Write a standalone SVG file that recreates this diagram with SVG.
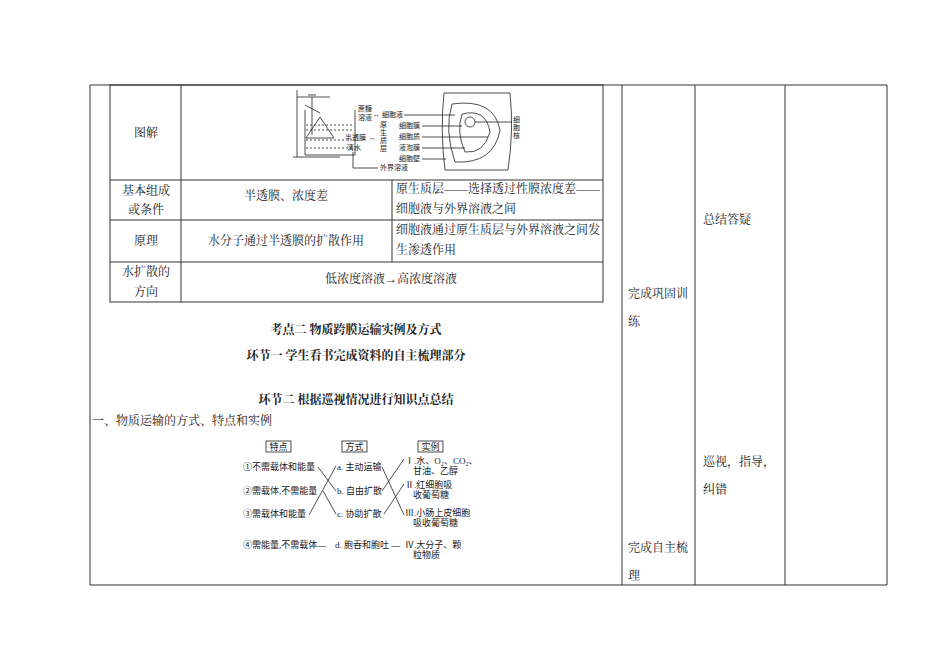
<svg xmlns="http://www.w3.org/2000/svg" width="950" height="672" viewBox="0 0 950 672">
<style>
.t{font-family:"Liberation Serif","Noto Serif CJK SC","Noto Sans CJK SC",serif;font-size:12px;fill:#222}
.b{font-weight:bold}
.s{font-family:"Liberation Serif","Noto Sans CJK SC",serif;font-size:7px;fill:#222}
.m{font-family:"Liberation Serif","Noto Sans CJK SC",serif;font-size:9px;fill:#222}
.ln{stroke:#333;stroke-width:1;fill:none}
.g{stroke:#222;stroke-width:0.8;fill:none}
</style>
<rect width="950" height="672" fill="#fff"/>
<g id="outer-table" class="ln">
<path d="M90 85V585H887V85H90M622 85V585M695 85V585M785 85V585"/>
</g>
<g id="inner-table" class="ln">
<rect x="110" y="85" width="493" height="217"/>
<path d="M110 180H603M110 220H603M110 262H603M181 85V302M392 180V262"/>
</g>
<g id="cells">
<text class="t" x="146" y="137" text-anchor="middle">图解</text>
<text class="t" x="146" y="195" text-anchor="middle">基本组成</text>
<text class="t" x="146" y="214" text-anchor="middle">或条件</text>
<text class="t" x="286" y="200" text-anchor="middle">半透膜、浓度差</text>
<text class="t" x="396" y="193">原生质层——选择透过性膜浓度差——</text>
<text class="t" x="396" y="213">细胞液与外界溶液之间</text>
<text class="t" x="146" y="245" text-anchor="middle">原理</text>
<text class="t" x="286" y="245" text-anchor="middle">水分子通过半透膜的扩散作用</text>
<text class="t" x="396" y="234">细胞液通过原生质层与外界溶液之间发</text>
<text class="t" x="396" y="254">生渗透作用</text>
<text class="t" x="146" y="276" text-anchor="middle">水扩散的</text>
<text class="t" x="146" y="296" text-anchor="middle">方向</text>
<text class="t" x="391" y="283" text-anchor="middle">低浓度溶液→高浓度溶液</text>
<text class="t" x="628" y="298">完成巩固训</text>
<text class="t" x="628" y="326">练</text>
<text class="t" x="628" y="552">完成自主梳</text>
<text class="t" x="628" y="580">理</text>
<text class="t" x="703" y="224">总结答疑</text>
<text class="t" x="703" y="466">巡视，指导，</text>
<text class="t" x="703" y="494">纠错</text>
</g>
<g id="figure1">
<path class="g" d="M297 90V157M293 157H340M297 97H330M312 97V135M308 95H316M305 105L320 113"/>
<path class="g" d="M305 110V155H355V110"/>
<path class="g" d="M306 125H354M306 130H354M306 140H354M306 148H354" stroke-dasharray="2 2"/>
<path class="g" d="M320 117L306 138H334Z" fill="#eee"/>
<path class="g" d="M444 93Q440 130 445 170M510 93Q514 130 508 170M444 93H510M445 170H508"/>
<path class="g" d="M452 104Q494 98 500 130Q494 164 455 162Q444 130 452 104Z"/>
<path class="g" d="M462 114Q486 108 490 132Q484 154 465 152Q456 132 462 114Z"/>
<circle class="g" cx="470" cy="122" r="5"/>
<text class="s" x="358" y="111">蔗糖</text><text class="s" x="358" y="120">溶液</text>
<text class="s" x="373" y="117">↔</text><text class="s" x="382" y="117">细胞液</text>
<text class="s" x="345" y="140">半透膜</text><text class="s" x="347" y="150">清水</text>
<text class="s" x="369" y="140">↔</text>
<text class="s" x="380" y="127">原</text><text class="s" x="380" y="135">生</text><text class="s" x="380" y="143">质</text><text class="s" x="380" y="151">层</text>
<text class="s" x="399" y="128">细胞膜</text><text class="s" x="399" y="139">细胞质</text><text class="s" x="399" y="150">液泡膜</text>
<text class="s" x="399" y="161">细胞壁</text>
<text class="s" x="380" y="170">外界溶液</text>
<text class="s" x="513" y="122">细</text><text class="s" x="513" y="130">胞</text><text class="s" x="513" y="138">核</text>
<path class="g" d="M404 115H455M422 126H462M422 137H488M422 148H465M422 159H446M353 152V168H378M475 122H512"/>
</g>
<g id="headings">
<text class="t b" x="356" y="334" text-anchor="middle">考点二  物质跨膜运输实例及方式</text>
<text class="t b" x="356" y="360" text-anchor="middle">环节一    学生看书完成资料的自主梳理部分</text>
<text class="t b" x="356" y="404" text-anchor="middle">环节二  根据巡视情况进行知识点总结</text>
<text class="t" x="92" y="425">一、物质运输的方式、特点和实例</text>
</g>
<g id="figure2">
<rect class="g" x="266" y="441" width="25" height="11"/><text class="m" x="278.5" y="450" text-anchor="middle">特点</text>
<rect class="g" x="342" y="441" width="25" height="11"/><text class="m" x="354.5" y="450" text-anchor="middle">方式</text>
<rect class="g" x="418" y="441" width="25" height="11"/><text class="m" x="430.5" y="450" text-anchor="middle">实例</text>
<text class="m" x="243" y="470">①不需载体和能量</text>
<text class="m" x="243" y="494">②需载体,不需能量</text>
<text class="m" x="243" y="517">③需载体和能量</text>
<text class="m" x="243" y="548">④需能量,不需载体—</text>
<text class="m" x="337" y="470">a. 主动运输</text>
<text class="m" x="337" y="494">b. 自由扩散</text>
<text class="m" x="337" y="517">c. 协助扩散</text>
<text class="m" x="335" y="548">d. 胞吞和胞吐 —</text>
<text class="m" x="405" y="464">Ⅰ.水、O₂、CO₂、</text><text class="m" x="413" y="474">甘油、乙醇</text>
<text class="m" x="405" y="488">Ⅱ.红细胞吸</text><text class="m" x="413" y="498">收葡萄糖</text>
<text class="m" x="405" y="516">Ⅲ.小肠上皮细胞</text><text class="m" x="413" y="526">吸收葡萄糖</text>
<text class="m" x="405" y="548">Ⅳ.大分子、颗</text><text class="m" x="413" y="558">粒物质</text>
<path class="g" d="M318 467L336 491M309 515L336 466M323 491L336 514M382 467L404 515M382 491L404 459M384 514L404 484"/>
</g>
</svg>
